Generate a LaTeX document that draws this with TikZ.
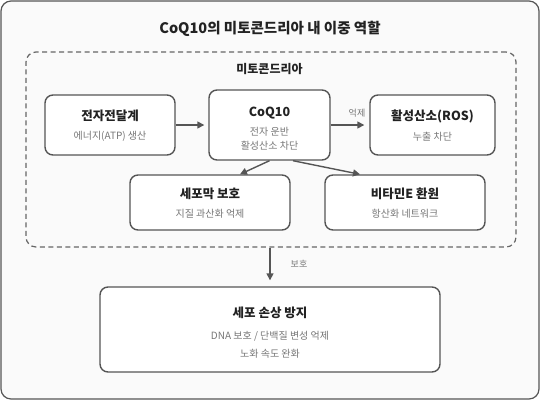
\documentclass[tikz,border=0pt]{standalone}
\usepackage{fontspec}
\setmainfont{Noto Sans CJK KR}
\usetikzlibrary{arrows.meta,calc}
\definecolor{framec}{HTML}{555555}
\definecolor{bgc}{HTML}{FAFAFA}
\definecolor{dashc}{HTML}{666666}
\definecolor{txtc}{HTML}{222222}
\definecolor{subc}{HTML}{777777}
\definecolor{arrc}{HTML}{555555}
\tikzset{
  boxnode/.style={draw=framec, line width=1.4pt, fill=white, rounded corners=8pt, inner sep=0pt},
  ttl/.style={text=txtc, font=\bfseries\fontsize{12.5}{14}\selectfont, inner sep=0pt, anchor=center},
  subt/.style={text=subc, font=\fontsize{10}{12}\selectfont, inner sep=0pt, anchor=center},
  elab/.style={text=subc, font=\fontsize{9}{11}\selectfont, inner sep=0pt, anchor=center},
  arr/.style={draw=arrc, line width=1.4pt, -{Triangle[length=7pt,width=7pt]}},
}
\begin{document}
\begin{tikzpicture}[x=1pt,y=-1pt]
\useasboundingbox (0,0) rectangle (540,400);
% outer frame
\node[draw=framec, line width=1.2pt, fill=bgc, rounded corners=10pt, minimum width=538pt, minimum height=398pt, inner sep=0pt] (outer) at (270,200) {};
\node[text=txtc, font=\bfseries\fontsize{14.5}{17}\selectfont, inner sep=0pt] (title) at (270,28.5) {CoQ10의 미토콘드리아 내 이중 역할};
% dashed mitochondria region
\node[draw=dashc, line width=1.2pt, dash pattern=on 5pt off 3.5pt, rounded corners=10pt, minimum width=490pt, minimum height=195pt, inner sep=0pt] (mito) at (271,149.5) {};
\node[text=txtc, font=\bfseries\fontsize{12}{14}\selectfont, inner sep=0pt] (mitolab) at (269.5,69) {미토콘드리아};
% boxes
\node[boxnode, minimum width=130pt, minimum height=60pt] (etc) at (110,125) {};
\node[ttl] (etct) at (110,116) {전자전달계};
\node[subt] (etcs) at (110,136) {에너지(ATP) 생산};

\node[boxnode, minimum width=121pt, minimum height=70pt] (coq) at (269.5,125) {};
\node[ttl] (coqt) at (269.5,113.5) {CoQ10};
\node[subt] (coqs1) at (269.5,132) {전자 운반};
\node[subt] (coqs2) at (269.5,145.5) {활성산소 차단};

\node[boxnode, minimum width=125pt, minimum height=60pt] (ros) at (432.5,125) {};
\node[ttl] (rost) at (432.5,116.5) {활성산소(ROS)};
\node[subt] (ross) at (432.5,136.5) {누출 차단};

\node[boxnode, minimum width=160pt, minimum height=55pt] (mem) at (210,202.5) {};
\node[ttl] (memt) at (210,193.5) {세포막 보호};
\node[subt] (mems) at (210,214) {지질 과산화 억제};

\node[boxnode, minimum width=160pt, minimum height=55pt] (vit) at (405,202.5) {};
\node[ttl] (vitt) at (405,193.5) {비타민E 환원};
\node[subt] (vits) at (405,214) {항산화 네트워크};

\node[boxnode, minimum width=340pt, minimum height=85pt] (bot) at (270,329.5) {};
\node[ttl] (bott) at (270,313.3) {세포 손상 방지};
\node[subt] (bots1) at (270,336) {DNA 보호 / 단백질 변성 억제};
\node[subt] (bots2) at (270,354) {노화 속도 완화};

% connectors
\draw[arr, shorten >=4pt] (etc.east) -- (coq.west);
\draw[arr, shorten >=5pt] (coq.east) -- (ros.west);
\node[elab] (l1) at (357,113) {억제};
\draw[arr] (coq.south) -- ($(mem.north)+(30,0)$);
\draw[arr] ($(coq.south)+(23.5,0)$) -- ($(vit.north)+(-45,0)$);
\draw[arr, shorten >=6pt] (mito.south -| bot.north) -- (bot.north);
\node[elab] (l2) at (299,263.5) {보호};
\end{tikzpicture}
\end{document}
